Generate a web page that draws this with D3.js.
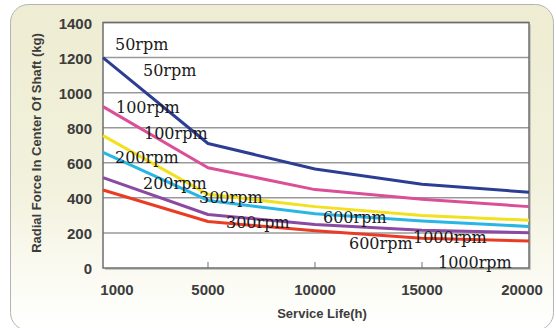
<!DOCTYPE html>
<html><head><meta charset="utf-8">
<script src="https://cdn.jsdelivr.net/npm/d3@7/dist/d3.min.js"></script>
<style>html,body{margin:0;padding:0;background:#fff;}svg{display:block;}</style>
</head><body>
<svg id="c" width="556" height="328"></svg>
<script>
// ---- data ----
const hours = [1000, 5000, 10000, 15000, 20000];
const xTickLabels = ["1000", "5000", "10000", "15000", "20000"];
const yTicks = [0, 200, 400, 600, 800, 1000, 1200, 1400];
const rpm50 = [1200, 710, 565, 478, 432];
const rpm100 = [920, 572, 447, 392, 350];
const rpm200a = [755, 420, 350, 300, 272];
const rpm200b = [660, 385, 310, 268, 237];
const rpm300a = [515, 305, 248, 215, 201];
const rpm300b = [445, 265, 212, 170, 154];
const seriesColors = ["#2c3e93", "#da4f98", "#f3e01e", "#29b6e4", "#8b49a2", "#ea3c25"];
const rpmLabels = ["50rpm","50rpm","100rpm","100rpm","200rpm","200rpm","300rpm","300rpm","600rpm","600rpm","1000rpm","1000rpm"];
const rpmLabelPos = [[115,50],[143,76],[116,113],[144,139],[115,163],[143,189],[199,203],[226,228],[323,223],[349,249],[413,243],[438,268]];

const svg = d3.select("#c");
const defs = svg.append("defs");
const g = defs.append("linearGradient").attr("id","bg").attr("x1",0).attr("y1",0).attr("x2",0).attr("y2",1);
g.append("stop").attr("offset","0%").attr("stop-color","#eeecd2");
g.append("stop").attr("offset","55%").attr("stop-color","#f2f1dc");
g.append("stop").attr("offset","85%").attr("stop-color","#fbfbf4");
g.append("stop").attr("offset","100%").attr("stop-color","#ffffff");

svg.append("rect").attr("x",10.5).attr("y",4.5).attr("width",543).attr("height",326)
  .attr("rx",18).attr("fill","url(#bg)").attr("stroke","#b4b4b4").attr("stroke-width",1);

const L = 103, T = 22.5, R = 529, B = 268;
const x = d3.scaleLinear().domain([1000, 5000, 20000]).range([L, 208, R]);
const y = d3.scaleLinear().domain([0, 1400]).range([B, T]);

// plot shadow + background
svg.append("rect").attr("x",L+2).attr("y",T+2).attr("width",R-L).attr("height",B-T).attr("fill","#c8c8c0");
svg.append("rect").attr("x",L).attr("y",T).attr("width",R-L).attr("height",B-T).attr("fill","#fff");

// grid
svg.append("g").selectAll("line").data(yTicks.filter(d=>d>0)).join("line")
  .attr("x1",L).attr("x2",R).attr("y1",d=>y(d)).attr("y2",d=>y(d))
  .attr("stroke","#999").attr("stroke-width",1.5);

// x tick marks
svg.append("g").selectAll("line").data(hours.slice(1,4)).join("line")
  .attr("x1",d=>x(d)).attr("x2",d=>x(d)).attr("y1",B).attr("y2",B-6)
  .attr("stroke","#888").attr("stroke-width",1.2);

svg.append("rect").attr("x",L).attr("y",T).attr("width",R-L).attr("height",B-T)
  .attr("fill","none").attr("stroke","#6e6e6e").attr("stroke-width",1.5);

// lines
const allSeries = [rpm50, rpm100, rpm200a, rpm200b, rpm300a, rpm300b];
const line = d3.line().x((d,i)=>x(hours[i])).y(d=>y(d)).curve(d3.curveLinear);
svg.append("g").selectAll("path").data(allSeries).join("path")
  .attr("d", d=>line(d)).attr("fill","none")
  .attr("stroke",(d,i)=>seriesColors[i]).attr("stroke-width",3)
  .attr("stroke-linejoin","round");

// axes labels
const sans = "'Liberation Sans', Arial, sans-serif";
svg.append("g").selectAll("text").data(yTicks).join("text")
  .attr("x",92).attr("y",d=>y(d)+6).attr("text-anchor","end")
  .attr("font-family",sans).attr("font-weight","bold").attr("font-size",15)
  .attr("fill","#3c3c3c").text(d=>d);

svg.append("g").selectAll("text").data(hours).join("text")
  .attr("x",(d,i)=> x(d) + (i===0?14:(i===4?-7:0)))
  .attr("y",295).attr("text-anchor","middle")
  .attr("font-family",sans).attr("font-weight","bold").attr("font-size",15)
  .attr("fill","#3c3c3c").text((d,i)=>xTickLabels[i]);

svg.append("text").attr("x",322).attr("y",318).attr("text-anchor","middle")
  .attr("font-family",sans).attr("font-weight","bold").attr("font-size",13)
  .attr("fill","#3c3c3c").text("Service Life(h)");

svg.append("text").attr("transform","translate(41,143) rotate(-90)").attr("text-anchor","middle")
  .attr("font-family",sans).attr("font-weight","bold").attr("font-size",13)
  .attr("fill","#3c3c3c").text("Radial Force In Center Of Shaft (kg)");

// rpm labels
svg.append("g").selectAll("text").data(rpmLabels).join("text")
  .attr("x",(d,i)=>rpmLabelPos[i][0]).attr("y",(d,i)=>rpmLabelPos[i][1])
  .attr("font-family","'DejaVu Serif', serif").attr("font-size",16)
  .attr("fill","#1a1a1a").text(d=>d);
</script>
</body></html>
